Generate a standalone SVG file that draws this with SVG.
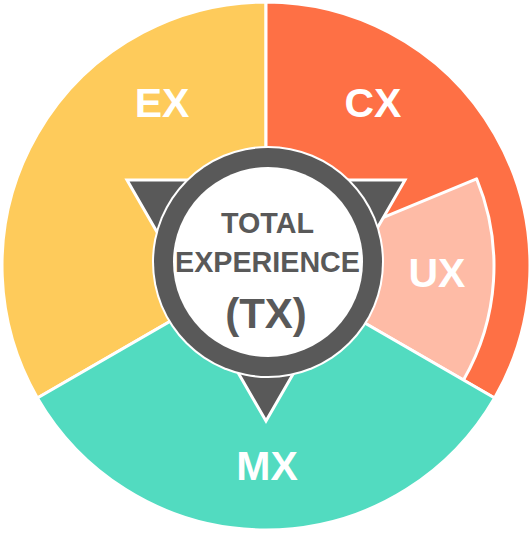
<svg xmlns="http://www.w3.org/2000/svg" width="532" height="533" viewBox="0 0 532 533">
  <style>
    .seg { stroke: #ffffff; stroke-width: 3; stroke-linejoin: round; }
    .lbl { font-family: "Liberation Sans", Arial, sans-serif; font-weight: bold; fill: #ffffff; text-anchor: middle; font-size: 41px; }
    .ctr { font-family: "Liberation Sans", Arial, sans-serif; font-weight: bold; fill: #595959; text-anchor: middle; }
  </style>
  <rect width="532" height="533" fill="#ffffff"/>
  <g id="ex">
    <path class="seg" fill="#FECB5B" d="M266,266 L37.4,398 A264,264 0 0 1 266,2 Z"/>
    <text class="lbl" x="162" y="117">EX</text>
  </g>
  <g id="cx">
    <path class="seg" fill="#FE7045" d="M266,266 L266,2 A264,264 0 0 1 494.6,398 Z"/>
    <text class="lbl" x="373" y="117">CX</text>
  </g>
  <g id="ux">
    <path class="seg" fill="#FEBBA6" d="M266,266 L476.6,178.8 A228,228 0 0 1 463.5,380 Z"/>
    <text class="lbl" x="437" y="287">UX</text>
  </g>
  <g id="mx">
    <path class="seg" fill="#52DBC0" d="M266,266 L494.6,398 A264,264 0 0 1 37.4,398 Z"/>
    <text class="lbl" x="267" y="480">MX</text>
  </g>
  <g id="connectors"></g>
  <g id="tx">
    <polygon points="127,180 405,180 266,421" fill="#595959" stroke="#ffffff" stroke-width="3" stroke-linejoin="miter"/>
    <circle cx="268" cy="262" r="116" fill="#ffffff"/>
    <circle cx="268" cy="262" r="114" fill="#595959"/>
    <circle cx="268" cy="262" r="95" fill="#ffffff"/>
    <text class="ctr" x="267.5" y="233" font-size="28.7">TOTAL</text>
    <text class="ctr" x="267.5" y="272" font-size="28.7">EXPERIENCE</text>
    <text class="ctr" x="266" y="328" font-size="42">(TX)</text>
  </g>
</svg>
